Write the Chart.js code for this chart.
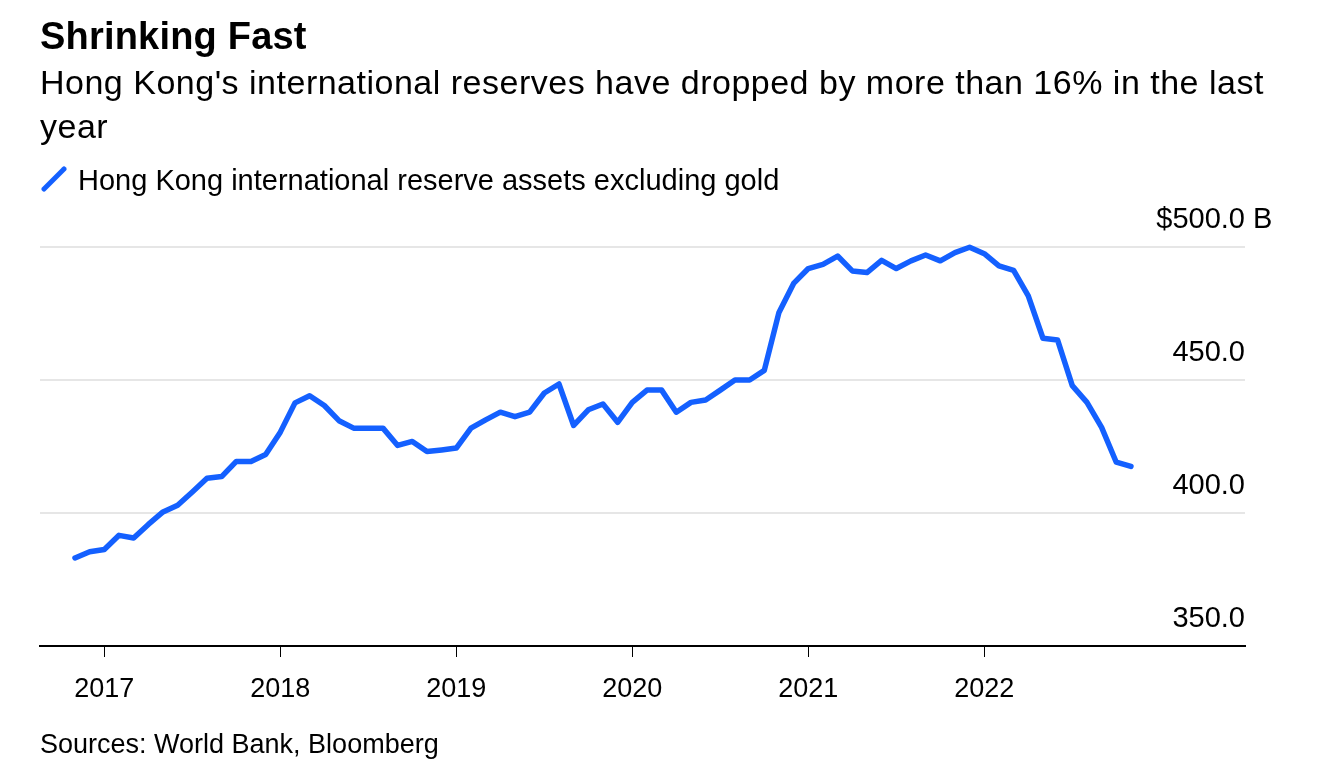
<!DOCTYPE html>
<html>
<head>
<meta charset="utf-8">
<script src="https://cdn.jsdelivr.net/npm/chart.js@4.4.1/dist/chart.umd.min.js"></script>
<style>
  html, body { margin: 0; padding: 0; background: #fff; }
  body {
    width: 1320px; height: 780px; position: relative; overflow: hidden;
    font-family: "Liberation Sans", Arial, Helvetica, sans-serif; color: #000;
  }
  .txt { position: absolute; left: 40px; white-space: nowrap; }
  #title { font-weight: bold; font-size: 38px; line-height: 38px; letter-spacing: 0.2px; top: 17px; }
  #subtitle { font-size: 34px; line-height: 44px; letter-spacing: 0.5px; top: 60px; }
  #legend { font-size: 29px; line-height: 29px; top: 166px; left: 40px; }
  #legend svg { position: absolute; left: 0; top: 0; }
  #legend span { position: absolute; left: 38px; top: 0; }
  #source { font-size: 27px; line-height: 27px; top: 731px; }
  #wrap { position: absolute; left: 0; top: 0; width: 1320px; height: 780px; }
</style>
</head>
<body>
<div id="wrap"><canvas id="reserveChart"></canvas></div>
<div class="txt" id="title">Shrinking Fast</div>
<div class="txt" id="subtitle">Hong Kong's international reserves have dropped by more than 16% in the last<br>year</div>
<div class="txt" id="legend">
  <svg width="30" height="30"><line x1="4" y1="23" x2="24" y2="3" stroke="#1460ff" stroke-width="5" stroke-linecap="round"/></svg>
  <span>Hong Kong international reserve assets excluding gold</span>
</div>
<div class="txt" id="source">Sources: World Bank, Bloomberg</div>
<script>
// month-end observations, Oct 2016 .. Oct 2022
const months = [
  '2016-10', '2016-11', '2016-12',
  '2017-01', '2017-02', '2017-03', '2017-04', '2017-05', '2017-06', '2017-07', '2017-08', '2017-09', '2017-10', '2017-11', '2017-12',
  '2018-01', '2018-02', '2018-03', '2018-04', '2018-05', '2018-06', '2018-07', '2018-08', '2018-09', '2018-10', '2018-11', '2018-12',
  '2019-01', '2019-02', '2019-03', '2019-04', '2019-05', '2019-06', '2019-07', '2019-08', '2019-09', '2019-10', '2019-11', '2019-12',
  '2020-01', '2020-02', '2020-03', '2020-04', '2020-05', '2020-06', '2020-07', '2020-08', '2020-09', '2020-10', '2020-11', '2020-12',
  '2021-01', '2021-02', '2021-03', '2021-04', '2021-05', '2021-06', '2021-07', '2021-08', '2021-09', '2021-10', '2021-11', '2021-12',
  '2022-01', '2022-02', '2022-03', '2022-04', '2022-05', '2022-06', '2022-07', '2022-08', '2022-09', '2022-10'
];

// reserve assets excl. gold, $ billions
const reserves = [
  383.1, 385.4, 386.3,
  391.6, 390.6, 395.7, 400.4, 402.9, 407.9, 413.1, 413.7, 419.4, 419.4, 422.0, 430.4,
  441.4, 444.1, 440.4, 434.7, 431.9, 431.9, 431.9, 425.4, 426.9, 423.1, 423.7, 424.4,
  431.9, 435.0, 437.9, 436.2, 437.9, 445.1, 448.5, 432.9, 438.8, 441.0, 434.1, 441.6,
  446.2, 446.2, 437.9, 441.6, 442.5, 446.2, 450.0, 450.0, 453.6, 475.4, 486.3, 491.9,
  493.5, 496.6, 491.0, 490.4, 495.0, 491.9, 494.8, 497.0, 494.8, 497.9, 499.9, 497.5,
  492.9, 491.2, 481.6, 465.7, 465.0, 447.9, 441.6, 432.2, 419.1, 417.5
];

const yearTicks = [2017, 2018, 2019, 2020, 2021, 2022];
const valueTicks = [350, 400, 450, 500];

const BLUE = '#1460ff';
const FONT = '"Liberation Sans", Arial, Helvetica, sans-serif';
const Y_LABEL_SHIFT = -27;

function monthX(s) {
    const [yr, mo] = s.split('-').map(Number);
    return yr + mo / 12;
}

// the "B" unit that hangs off the top tick label
const unitLabel = {
    id: 'unitLabel',
    afterDraw(chart) {
        const ys = chart.scales.y;
        const ctx = chart.ctx;
        const py = ys.getPixelForValue(valueTicks[valueTicks.length - 1]) + Y_LABEL_SHIFT;
        ctx.save();
        ctx.font = '29px ' + FONT;
        ctx.fillStyle = '#000';
        ctx.textAlign = 'left';
        ctx.textBaseline = 'middle';
        ctx.fillText('B', ys.left + 8, py);
        ctx.restore();
    }
};

Chart.defaults.font.family = FONT;
Chart.defaults.color = '#000';

const ctx = document.getElementById('reserveChart').getContext('2d');
new Chart(ctx, {
    type: 'line',
    data: {
        datasets: [{
            label: 'Hong Kong international reserve assets excluding gold',
            data: months.map((m, i) => ({ x: monthX(m), y: reserves[i] })),
            borderColor: BLUE,
            borderWidth: 5.5,
            borderJoinStyle: 'round',
            borderCapStyle: 'round',
            pointRadius: 0,
            tension: 0,
            fill: false,
            clip: false
        }]
    },
    options: {
        responsive: true,
        maintainAspectRatio: false,
        animation: false,
        layout: { padding: { left: 40, right: 75, top: 247, bottom: 54 } },
        plugins: {
            legend: { display: false },
            tooltip: { enabled: false }
        },
        scales: {
            x: {
                type: 'linear',
                min: 2016.6345,
                max: 2023.4814,
                afterBuildTicks: s => { s.ticks = yearTicks.map(v => ({ value: v })); },
                afterFit: s => { s.height = 80; },
                grid: { drawOnChartArea: false, drawTicks: true, tickLength: 11, color: '#000', lineWidth: 1 },
                border: { display: true, color: '#000', width: 2 },
                ticks: {
                    padding: 16,
                    autoSkip: false,
                    maxRotation: 0,
                    font: { size: 27 },
                    callback: v => String(v)
                }
            },
            y: {
                position: 'right',
                min: 350,
                max: 500,
                afterBuildTicks: s => { s.ticks = valueTicks.map(v => ({ value: v })); },
                afterFit: s => { s.width = 0; },
                grid: {
                    color: c => (c.tick && c.tick.value === 350) ? 'rgba(0,0,0,0)' : '#e6e6e6',
                    lineWidth: 2,
                    drawTicks: false
                },
                border: { display: false },
                ticks: {
                    mirror: true,
                    padding: 0,
                    labelOffset: Y_LABEL_SHIFT,
                    font: { size: 29 },
                    callback: v => v === 500 ? '$500.0' : v.toFixed(1)
                }
            }
        }
    },
    plugins: [unitLabel]
});
</script>
</body>
</html>
